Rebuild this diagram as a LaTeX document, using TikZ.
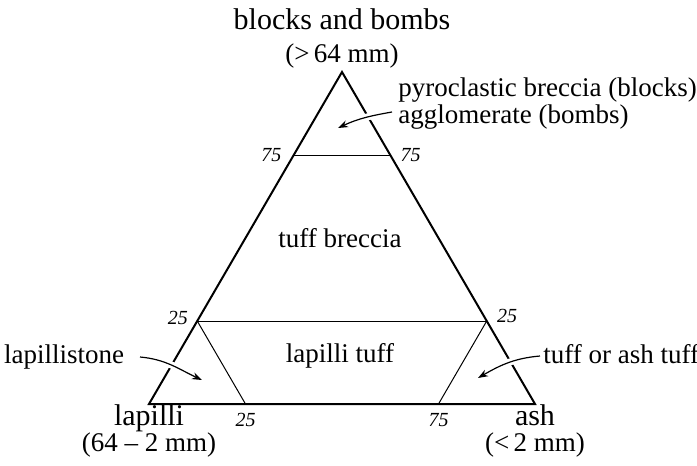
\documentclass[tikz,border=0pt]{standalone}
\usepackage{fontspec}
\setmainfont{Liberation Serif}
\usetikzlibrary{arrows.meta,positioning,calc}

\begin{document}
\begin{tikzpicture}[x=0.5pt,y=-0.5pt,
  corner/.style={font=\fontsize{15}{18}\selectfont,anchor=base,inner sep=0pt},
  grain/.style={font=\fontsize{13.5}{16}\selectfont,anchor=base,inner sep=0pt},
  pct/.style={font=\fontsize{10}{12}\selectfont\itshape,inner sep=0pt},
  field/.style={font=\fontsize{13.5}{16}\selectfont,inner sep=0pt},
  pointer/.style={-{Stealth[length=5pt,width=3.6pt]},line width=0.6pt},
  gap/.style={white,line width=3.5pt,shorten >=6pt}]
  \useasboundingbox (0,0) rectangle (697,466);
  \coordinate (top) at (342,72);
  \coordinate (left) at (149,404);
  \coordinate (right) at (535,404);
  \coordinate (l75) at ($(left)!0.75!(top)$);
  \coordinate (r75) at ($(right)!0.75!(top)$);
  \coordinate (l25) at ($(left)!0.25!(top)$);
  \coordinate (r25) at ($(right)!0.25!(top)$);
  \coordinate (b25) at ($(left)!0.25!(right)$);
  \coordinate (b75) at ($(left)!0.75!(right)$);
  \draw[line width=0.5pt] (l75) -- (r75);
  \draw[line width=0.5pt] (l25) -- (r25);
  \draw[line width=0.5pt] (l25) -- (b25);
  \draw[line width=0.5pt] (r25) -- (b75);
  \draw[line width=1pt,line join=miter] (top) -- (left) -- (right) -- cycle;
  \node[corner] (bb) at (342,29) {blocks and bombs};
  \node[grain] (bbsize) at (342,62) {(>\,64 mm)};
  \node[corner] (lap) at (149,425) {lapilli};
  \node[grain] (lapsize) at (149,451) {(64 -- 2 mm)};
  \node[corner] (ash) at (535,425) {ash};
  \node[grain] (ashsize) at (535,451) {(<\,2 mm)};
  \node[pct,left=6pt of l75] (tl) {75};
  \node[pct,right=5pt of r75] (tr) {75};
  \node[pct,left=4.5pt of l25,yshift=1.5pt] (ml) {25};
  \node[pct,right=5pt of r25,yshift=2.5pt] (mr) {25};
  \node[pct,below=4.5pt of b25] (bl) {25};
  \node[pct,below=4.5pt of b75] (br) {75};
  \node[field,anchor=base] (breccia) at (340,247) {tuff breccia};
  \node[field,anchor=base] (laptuff) at (340,362) {lapilli tuff};
  \node[field,anchor=base] (stone) at (64,363) {lapillistone};
  \node[field,anchor=base west] (ashtuff) at (543,363) {tuff or ash tuff};
  \node[field,anchor=base west,align=left,font=\fontsize{13.5}{12}\selectfont]
    (pyro) at (398,123) {pyroclastic breccia (blocks)\\agglomerate (bombs)};
  \coordinate (pyroA) at (392,112);
  \coordinate (pyroB) at (338,128);
  \coordinate (stoneA) at (140,357);
  \coordinate (stoneB) at (202,380);
  \coordinate (tuffA) at (540,356);
  \coordinate (tuffB) at (478,378);
  \draw[gap] (pyroA) to[out=190,in=25] (pyroB);
  \draw[pointer] (pyroA) to[out=190,in=25] (pyroB);
  \draw[gap] (stoneA) to[out=-5,in=155] (stoneB);
  \draw[pointer] (stoneA) to[out=-5,in=155] (stoneB);
  \draw[gap] (tuffA) to[out=185,in=30] (tuffB);
  \draw[pointer] (tuffA) to[out=185,in=30] (tuffB);
\end{tikzpicture}
\end{document}
